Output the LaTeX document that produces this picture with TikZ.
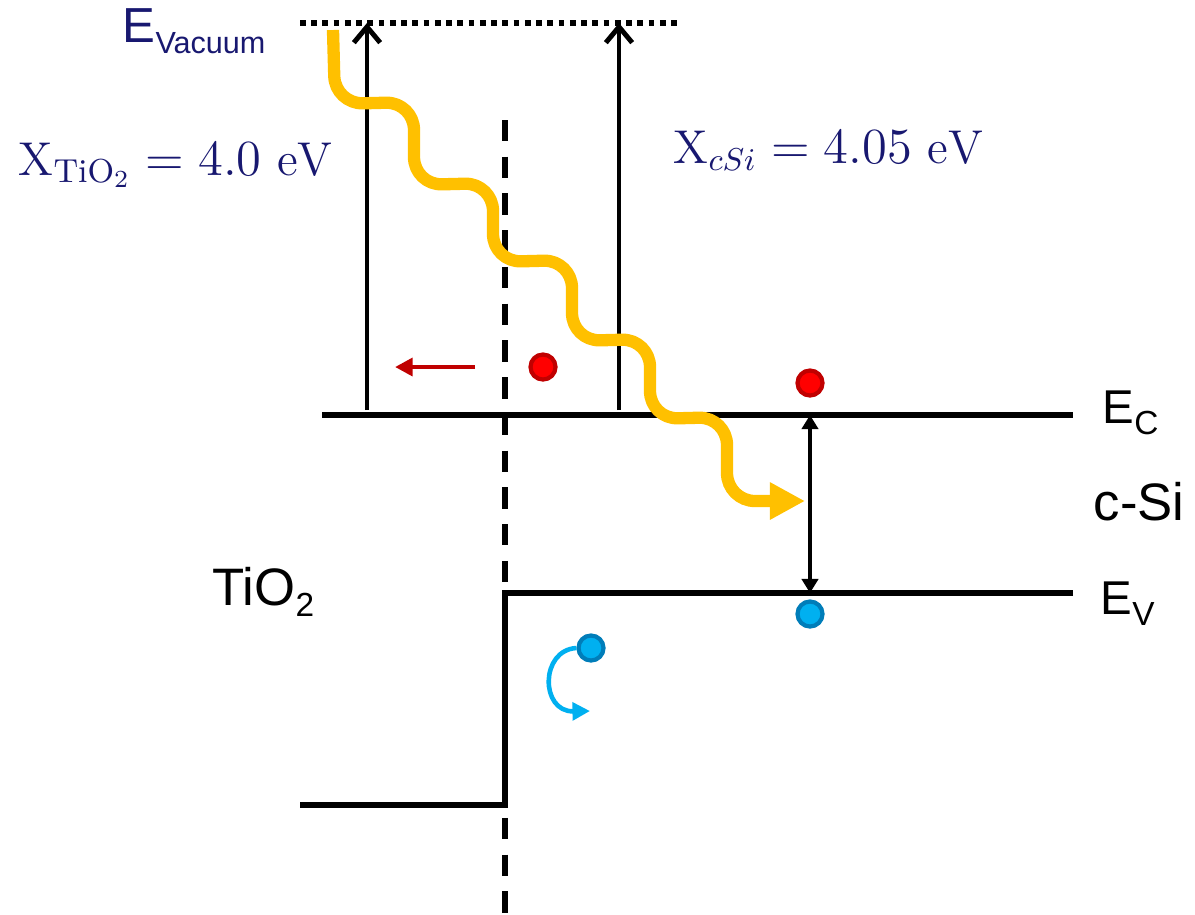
\documentclass[tikz,border=0pt]{standalone}
\usepackage{fontspec}
\newfontfamily\arialfont{Liberation Sans}
\usetikzlibrary{positioning, arrows.meta, calc}

\definecolor{darknavy}{RGB}{24,24,112}
\definecolor{photonyellow}{RGB}{255,192,0}
\definecolor{elecred}{RGB}{255,0,0}
\definecolor{elecdark}{RGB}{192,0,0}
\definecolor{holeblue}{RGB}{0,176,240}
\definecolor{holedark}{RGB}{0,125,185}

% lowered subscript for the band labels
\newcommand{\lvsub}[2][9.5]{\raisebox{-3.3pt}{\fontsize{#1}{#1}\selectfont #2}}

\tikzset{
  % Band edges
  bandline/.style={line width=1.6pt},
  vacline/.style={line width=1.6pt, dash pattern=on 1.6pt off 1.6pt},
  interfaceline/.style={line width=1.6pt, dash pattern=on 6.1pt off 4.35pt},
  % Arrows
  affinity/.style={-{Straight Barb[length=4.5pt,width=7.5pt]}, line width=1.4pt},
  gaparrow/.style={
    {Triangle[length=4pt,width=4.6pt]}-{Triangle[length=4pt,width=4.6pt]},
    line width=1.3pt
  },
  photon/.style={
    -{Triangle[length=10pt,width=10pt]}, line width=3.5pt,
    draw=photonyellow, rounded corners=0.28cm
  },
  drift/.style={-{Triangle[length=5pt,width=5pt]}, line width=1.3pt, draw=elecdark},
  holemove/.style={-{Triangle[length=5pt,width=5pt]}, line width=1.3pt, draw=holeblue},
  % Carriers
  electron/.style={
    circle, draw=elecdark, fill=elecred, line width=1.2pt,
    minimum size=0.25cm, inner sep=0pt
  },
  hole/.style={
    circle, draw=holedark, fill=holeblue, line width=1.2pt,
    minimum size=0.25cm, inner sep=0pt
  },
  % Labels
  bandlabel/.style={font=\arialfont\fontsize{13.5}{16}\selectfont, anchor=base west, inner sep=0pt},
  matlabel/.style={font=\arialfont\fontsize{15}{18}\selectfont, anchor=base west, inner sep=0pt},
  chilabel/.style={text=darknavy, font=\fontsize{13.5}{16}\selectfont, anchor=base west, inner sep=0pt},
}

\begin{document}
\begin{tikzpicture}

  \useasboundingbox (0,0) rectangle (11.95,-9.14);

  %% ── Level coordinates ──
  \coordinate (vacL) at (3.00,-0.23);
  \coordinate (vacR) at (6.80,-0.23);
  \coordinate (ecL)  at (3.22,-4.15);
  \coordinate (ecR)  at (10.73,-4.15);
  \coordinate (evR)  at (10.73,-5.93);
  \coordinate (evStep) at (5.05,-5.93);
  \coordinate (evLow)  at (5.05,-8.05);
  \coordinate (evLowL) at (3.00,-8.05);
  \coordinate (ifTop) at (5.05,-1.20);
  \coordinate (ifBot) at (5.05,-9.14);

  %% ── Band diagram ──
  \draw[vacline] (vacL) -- (vacR);
  \draw[interfaceline] (ifTop) -- (ifBot);
  \draw[bandline] (ecL) -- (ecR);
  \draw[bandline] (evR) -- (evStep) -- (evLow) -- (evLowL);

  %% ── Electron affinities ──
  \coordinate (tioBase) at (3.67,-4.10);
  \coordinate (tioVac)  at (3.67,-0.23);
  \coordinate (siBase)  at (6.19,-4.10);
  \coordinate (siVac)   at (6.19,-0.23);
  \draw[affinity] (tioBase) -- (tioVac);
  \draw[affinity] (siBase) -- (siVac);

  %% ── Band gap ──
  \coordinate (gapTop) at (8.10,-4.15);
  \coordinate (gapBot) at (8.10,-5.93);
  \draw[gaparrow] (gapTop) -- (gapBot);

  %% ── Photon ──
  \coordinate (photonStart) at (3.33,-0.30);
  \coordinate (photonEnd)   at (8.05,-5.01);
  \draw[photon] (photonStart) -- ++(0.02,-0.74) -- ++(0.79,0.02) -- ++(0,-0.83)
    -- ++(0.79,0.02) -- ++(0,-0.79) -- ++(0.79,0.02) -- ++(0,-0.81)
    -- ++(0.78,0.02) -- ++(0,-0.80) -- ++(0.77,0.02) -- ++(0,-0.84) -- (photonEnd);

  %% ── Carriers ──
  \node[electron] (eIf) at (5.43,-3.67) {};
  \node[electron] (eSi) at (8.10,-3.83) {};
  \node[hole] (hSi) at (8.10,-6.14) {};
  \node[hole] (hIf) at (5.91,-6.48) {};

  \coordinate (driftStart) at (4.75,-3.67);
  \coordinate (driftEnd)   at (3.95,-3.67);
  \draw[drift] (driftStart) -- (driftEnd);

  \coordinate (holeTurn) at (5.90,-7.11);
  \draw[holemove] (hIf.west) .. controls (5.40,-6.50) and (5.40,-7.12) .. (holeTurn);

  %% ── Labels ──
  \node[bandlabel, text=darknavy, font=\arialfont\fontsize{14}{17}\selectfont] (vacLabel) at (1.22,-0.42) {E\lvsub[8.7]{Vacuum}};
  \node[bandlabel] (ecLabel) at (11.02,-4.23) {E\lvsub{C}};
  \node[bandlabel] (evLabel) at (11.00,-6.14) {E\lvsub{V}};
  \node[matlabel] (siLabel) at (10.93,-5.20) {c-Si};
  \node[matlabel] (tioLabel) at (2.12,-6.05) {TiO\lvsub{2}};
  \node[chilabel] (chiTio) at (0.18,-1.75) {$\mathrm{X}_{\mathrm{TiO}_2} = 4.0\ \mathrm{eV}$};
  \node[chilabel] (chiSi) at (6.73,-1.63) {$\mathrm{X}_{cSi} = 4.05\ \mathrm{eV}$};

\end{tikzpicture}
\end{document}
